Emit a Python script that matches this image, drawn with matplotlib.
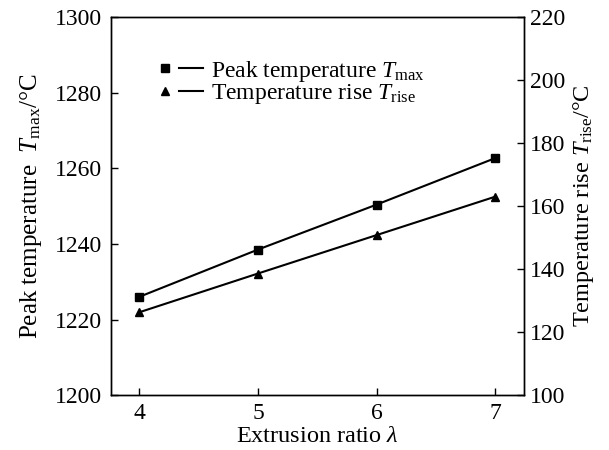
import matplotlib
matplotlib.use("Agg")
import matplotlib.pyplot as plt
from matplotlib.lines import Line2D
from matplotlib.legend_handler import HandlerTuple

plt.rcParams["font.family"] = "Liberation Serif"
plt.rcParams["mathtext.fontset"] = "custom"
plt.rcParams["mathtext.rm"] = "Liberation Serif"
plt.rcParams["mathtext.it"] = "Liberation Serif:italic"
plt.rcParams["font.size"] = 17

# data
extrusion_ratio = [4, 5, 6, 7]
peak_temp = [1226.0, 1238.5, 1250.4, 1262.7]   # left axis, degC
temp_rise = [126.3, 138.6, 150.8, 163.0]       # right axis, degC

fig, ax = plt.subplots(figsize=(6.09, 4.5), dpi=100)
fig.subplots_adjust(left=0.182, right=0.861, top=0.962, bottom=0.122)
ax2 = ax.twinx()

ax.plot(extrusion_ratio, peak_temp, color="black", lw=1.5, marker="s", ms=5.5)
ax2.plot(extrusion_ratio, temp_rise, color="black", lw=1.5, marker="^", ms=6)

ax.set_xlim(3.76, 7.245)
ax.set_ylim(1200, 1300)
ax2.set_ylim(100, 220)
ax.set_xticks(extrusion_ratio)
ax.set_yticks(range(1200, 1301, 20))
ax2.set_yticks(range(100, 221, 20))

ax.tick_params(direction="in", length=5, width=1, labelsize=17, pad=6)
ax2.tick_params(direction="in", length=5, width=1, labelsize=17, pad=4)
for a in (ax, ax2):
    for s in a.spines.values():
        s.set_linewidth(1.0)

ax.set_xlabel(r"Extrusion ratio $\lambda$", fontsize=17.5, labelpad=1)
ax.set_ylabel(r"Peak temperature  $T_{\rm max}$/°C", fontsize=18, labelpad=8)
ax2.set_ylabel(r"Temperature rise $T_{\rm rise}$/°C", fontsize=17.5, labelpad=4)

# legend: marker then a short line segment
sq = Line2D([], [], color="black", marker="s", ls="none", ms=5.5)
tri = Line2D([], [], color="black", marker="^", ls="none", ms=5.5)
ln = Line2D([], [], color="black", lw=1.5)
ax.legend([(sq, ln), (tri, ln)],
          [r"Peak temperature $T_{\rm max}$", r"Temperature rise $T_{\rm rise}$"],
          handler_map={tuple: HandlerTuple(ndivide=None, pad=0.05)},
          loc="upper left", bbox_to_anchor=(0.08, 0.915), frameon=False,
          handlelength=2.1, handletextpad=0.35, labelspacing=-0.05,
          borderaxespad=0, fontsize=17)

fig.savefig("out.png", dpi=100)
